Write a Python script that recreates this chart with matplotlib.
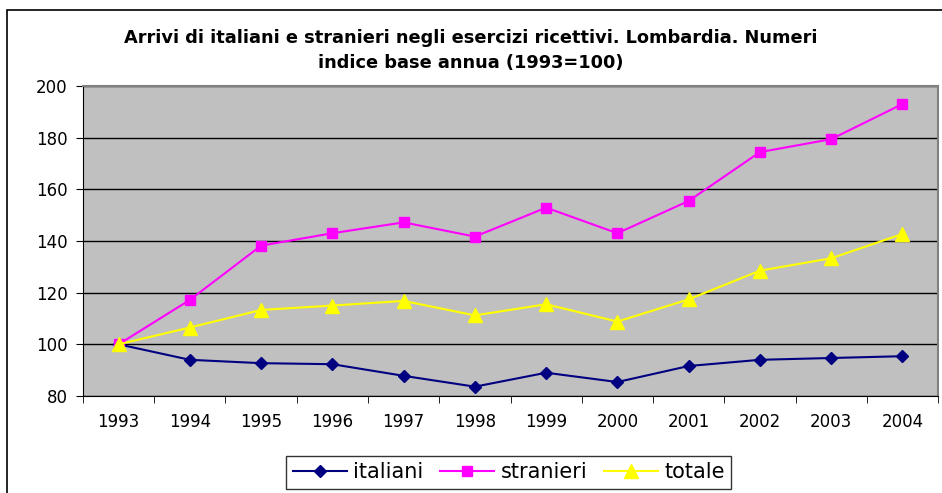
import numpy as np
import matplotlib
matplotlib.use("Agg")
import matplotlib.pyplot as plt
from matplotlib.patches import Rectangle

plt.rcParams['font.family'] = ['DejaVu Sans']

# Dati: numeri indice (1993=100)
anni = ['1993', '1994', '1995', '1996', '1997', '1998',
        '1999', '2000', '2001', '2002', '2003', '2004']
italiani = [100, 94.0, 92.7, 92.3, 87.8, 83.6, 89.0, 85.4, 91.6, 94.0, 94.7, 95.4]
stranieri = [100, 117.2, 138.2, 143.0, 147.2, 141.7, 152.9, 143.0, 155.5, 174.4, 179.4, 193.0]
totale = [100, 106.5, 113.3, 115.0, 116.8, 111.2, 115.5, 108.8, 117.4, 128.5, 133.3, 142.7]

fig = plt.figure(figsize=(9.42, 4.93), dpi=100)
ax = fig.add_axes([0.0881, 0.1968, 0.9077, 0.6288])

# cornice esterna del grafico
fig.patches.append(Rectangle((7 / 942, -0.01), 1.0, 1 - 10 / 493 + 0.01,
                             transform=fig.transFigure, fill=False,
                             edgecolor='black', linewidth=1.2))

x = np.arange(len(anni))
ax.set_facecolor('#C0C0C0')
ax.plot(x, italiani, color='#000080', marker='D', markersize=6.5, linewidth=1.5, label='italiani')
ax.plot(x, stranieri, color='#FF00FF', marker='s', markersize=7.5, linewidth=1.5, label='stranieri')
ax.plot(x, totale, color='#FFFF00', marker='^', markersize=9.5, linewidth=1.5, label='totale')

ax.set_xlim(-0.5, len(anni) - 0.5)
ax.set_ylim(80, 200)
ax.set_yticks(range(80, 201, 20))
ax.yaxis.grid(True, color='black', linewidth=1)
ax.set_axisbelow(True)

ax.set_xticks(x)
ax.set_xticklabels(anni)
ax.set_xticks(np.arange(-0.5, len(anni), 1), minor=True)
ax.tick_params(axis='x', which='major', length=0, pad=12, labelsize=12)
ax.tick_params(axis='x', which='minor', length=5, direction='out', color='black')
ax.tick_params(axis='y', length=5, direction='out', labelsize=12, pad=6)

for s in ['top', 'right']:
    ax.spines[s].set_color('#808080')
    ax.spines[s].set_linewidth(1.5)
ax.spines['left'].set_color('black')
ax.spines['bottom'].set_color('black')

fig.text(0.5, 0.898, 'Arrivi di italiani e stranieri negli esercizi ricettivi. Lombardia. Numeri\n'
         'indice base annua (1993=100)', ha='center', va='center',
         fontsize=12.8, fontweight='bold', linespacing=1.5)

leg = fig.legend(loc='upper center', bbox_to_anchor=(0.540, 1 - 456 / 493), ncol=3,
                 fontsize=15, frameon=True, fancybox=False, edgecolor='black',
                 handlelength=2.6, columnspacing=0.8, handletextpad=0.3,
                 borderpad=0.3, borderaxespad=0)
leg.get_frame().set_linewidth(1)

fig.savefig('out.png', dpi=100)
